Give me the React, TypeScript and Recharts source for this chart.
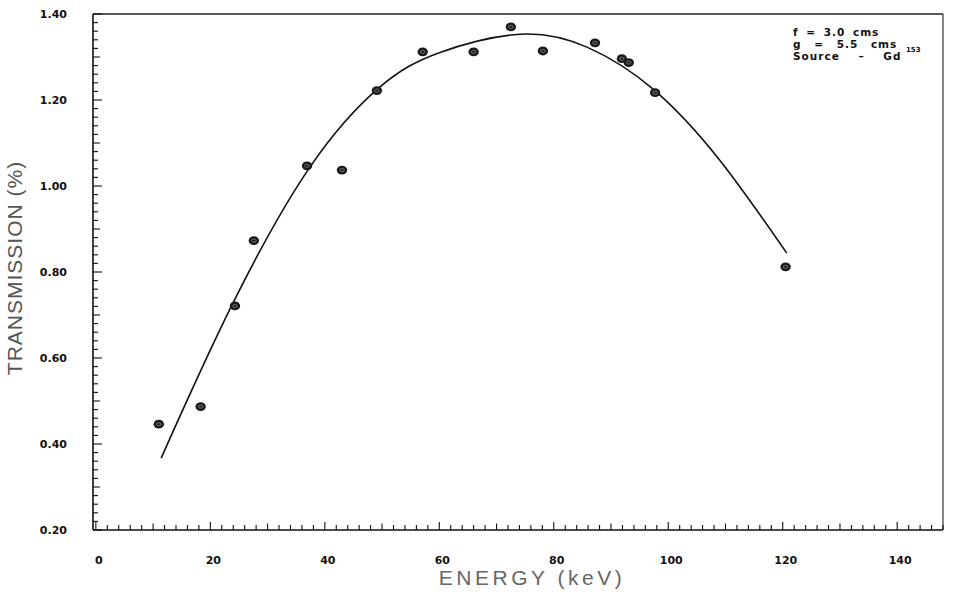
import React from 'react';
import { ComposedChart, Line, Scatter, XAxis, YAxis, ReferenceLine, Customized } from 'recharts';

// Measured points (energy keV, transmission %)
const pointEnergy = [11.0, 18.3, 24.3, 27.6, 36.9, 43.0, 49.1, 57.1, 66.0, 72.5, 78.1, 87.2, 91.9, 93.1, 97.7, 120.5];
const pointTransmission = [0.446, 0.487, 0.721, 0.873, 1.047, 1.037, 1.222, 1.312, 1.312, 1.370, 1.314, 1.333, 1.296, 1.287, 1.217, 0.812];

// Fitted curve
const curveEnergy = [11.4, 23.7, 37.4, 49.6, 60.0, 74.1, 85.8, 97.3, 109.0, 120.7];
const curveTransmission = [0.367, 0.721, 1.044, 1.230, 1.310, 1.353, 1.323, 1.226, 1.060, 0.844];

const xMajorTicks = [0, 20, 40, 60, 80, 100, 120, 140];
const yMajorTicks = [0.2, 0.4, 0.6, 0.8, 1.0, 1.2, 1.4];

const xAllTicks: number[] = [];
for (let k = 0; k <= 74; k++) xAllTicks.push(k * 2);
const yAllTicks: number[] = [];
for (let k = 10; k <= 70; k++) yAllTicks.push(k / 50);

const points = pointEnergy.map((e, i) => ({ e, t: pointTransmission[i] }));
const curve = curveEnergy.map((e, i) => ({ e, t: curveTransmission[i] }));

const tickFont = { fontFamily: 'DejaVu Sans', fontWeight: 'bold' as const, fontSize: 11, fill: '#111' };

const isMajorX = (v: number) => xMajorTicks.some((m) => Math.abs(m - v) < 1e-6);
const isMidX = (v: number) => Math.abs(v % 10) < 1e-6;
const isMajorY = (v: number) => yMajorTicks.some((m) => Math.abs(m - v) < 1e-6);
const isMidY = (v: number) => Math.abs(Math.round(v * 10) - v * 10) < 1e-6;

const XTick = (props: any) => {
  const { x, y, payload } = props;
  const v = payload.value;
  const len = isMajorX(v) ? 8 : isMidX(v) ? 6.5 : 5;
  return (
    <g>
      <line x1={x} x2={x} y1={y} y2={y - len} stroke="#111" strokeWidth={1.1} />
      {isMajorX(v) && (
        <text x={x + 3} y={y + 34} textAnchor="middle" {...tickFont}>
          {v}
        </text>
      )}
    </g>
  );
};

const YTick = (props: any) => {
  const { x, y, payload } = props;
  const v = payload.value;
  const len = isMajorY(v) ? 9 : isMidY(v) ? 7 : 5;
  return (
    <g>
      <line x1={x} x2={x + len} y1={y} y2={y} stroke="#111" strokeWidth={1.1} />
      {isMajorY(v) && (
        <text x={x - 26} y={y + 4} textAnchor="end" {...tickFont}>
          {v.toFixed(2)}
        </text>
      )}
    </g>
  );
};

const Dot = (props: any) => {
  const { cx, cy } = props;
  return (
    <g>
      <ellipse cx={cx} cy={cy} rx={5.2} ry={4.4} fill="#1a1a1a" />
      <ellipse cx={cx} cy={cy} rx={2.3} ry={1.5} fill="none" stroke="#888" strokeWidth={0.8} />
    </g>
  );
};

const Annotations = () => (
  <g>
    <text x={22} y={268} transform="rotate(-90 22 268)" textAnchor="middle" fontFamily="Liberation Sans" fontSize={21} fill="#555" letterSpacing={1}>
      TRANSMISSION (%)
    </text>
    <text x={532} y={585} textAnchor="middle" fontFamily="Liberation Sans" fontSize={21} fill="#666" letterSpacing={3.5}>
      ENERGY (keV)
    </text>
    <g fontFamily="DejaVu Sans" fontWeight="bold" fontSize={10.5} fill="#111" letterSpacing={1}>
      <text x={793} y={36} wordSpacing={3}>f = 3.0 cms</text>
      <text x={793} y={48} wordSpacing={8}>g = 5.5 cms</text>
      <text x={793} y={60} wordSpacing={14}>Source – Gd</text>
      <text x={906} y={52} fontSize={7} letterSpacing={0}>153</text>
    </g>
  </g>
);

export default function App() {
  return (
    <div style={{ position: 'absolute', left: 0, top: 0, width: 954, height: 592, background: '#fff' }}>
      <ComposedChart width={954} height={592} margin={{ top: 14, right: 11, bottom: 0, left: 0 }}>
        <XAxis
          type="number"
          dataKey="e"
          domain={[-0.5, 148]}
          allowDataOverflow
          ticks={xAllTicks}
          interval={0}
          tick={<XTick />}
          tickLine={false}
          tickSize={0}
          tickMargin={0}
          axisLine={{ stroke: '#111', strokeWidth: 1.6 }}
          height={62}
        />
        <YAxis
          type="number"
          dataKey="t"
          domain={[0.2, 1.4]}
          allowDataOverflow
          ticks={yAllTicks}
          interval={0}
          tick={<YTick />}
          tickLine={false}
          tickSize={0}
          tickMargin={0}
          axisLine={{ stroke: '#111', strokeWidth: 1.6 }}
          width={93}
        />
        <ReferenceLine y={1.4} stroke="#222" strokeWidth={1.3} ifOverflow="visible" />
        <ReferenceLine x={148} stroke="#333" strokeWidth={1.2} ifOverflow="visible" />
        <Line
          data={curve}
          dataKey="t"
          type="natural"
          stroke="#111"
          strokeWidth={1.6}
          dot={false}
          activeDot={false}
          isAnimationActive={false}
        />
        <Scatter data={points} dataKey="t" shape={<Dot />} isAnimationActive={false} />
        <Customized component={Annotations} />
      </ComposedChart>
    </div>
  );
}
